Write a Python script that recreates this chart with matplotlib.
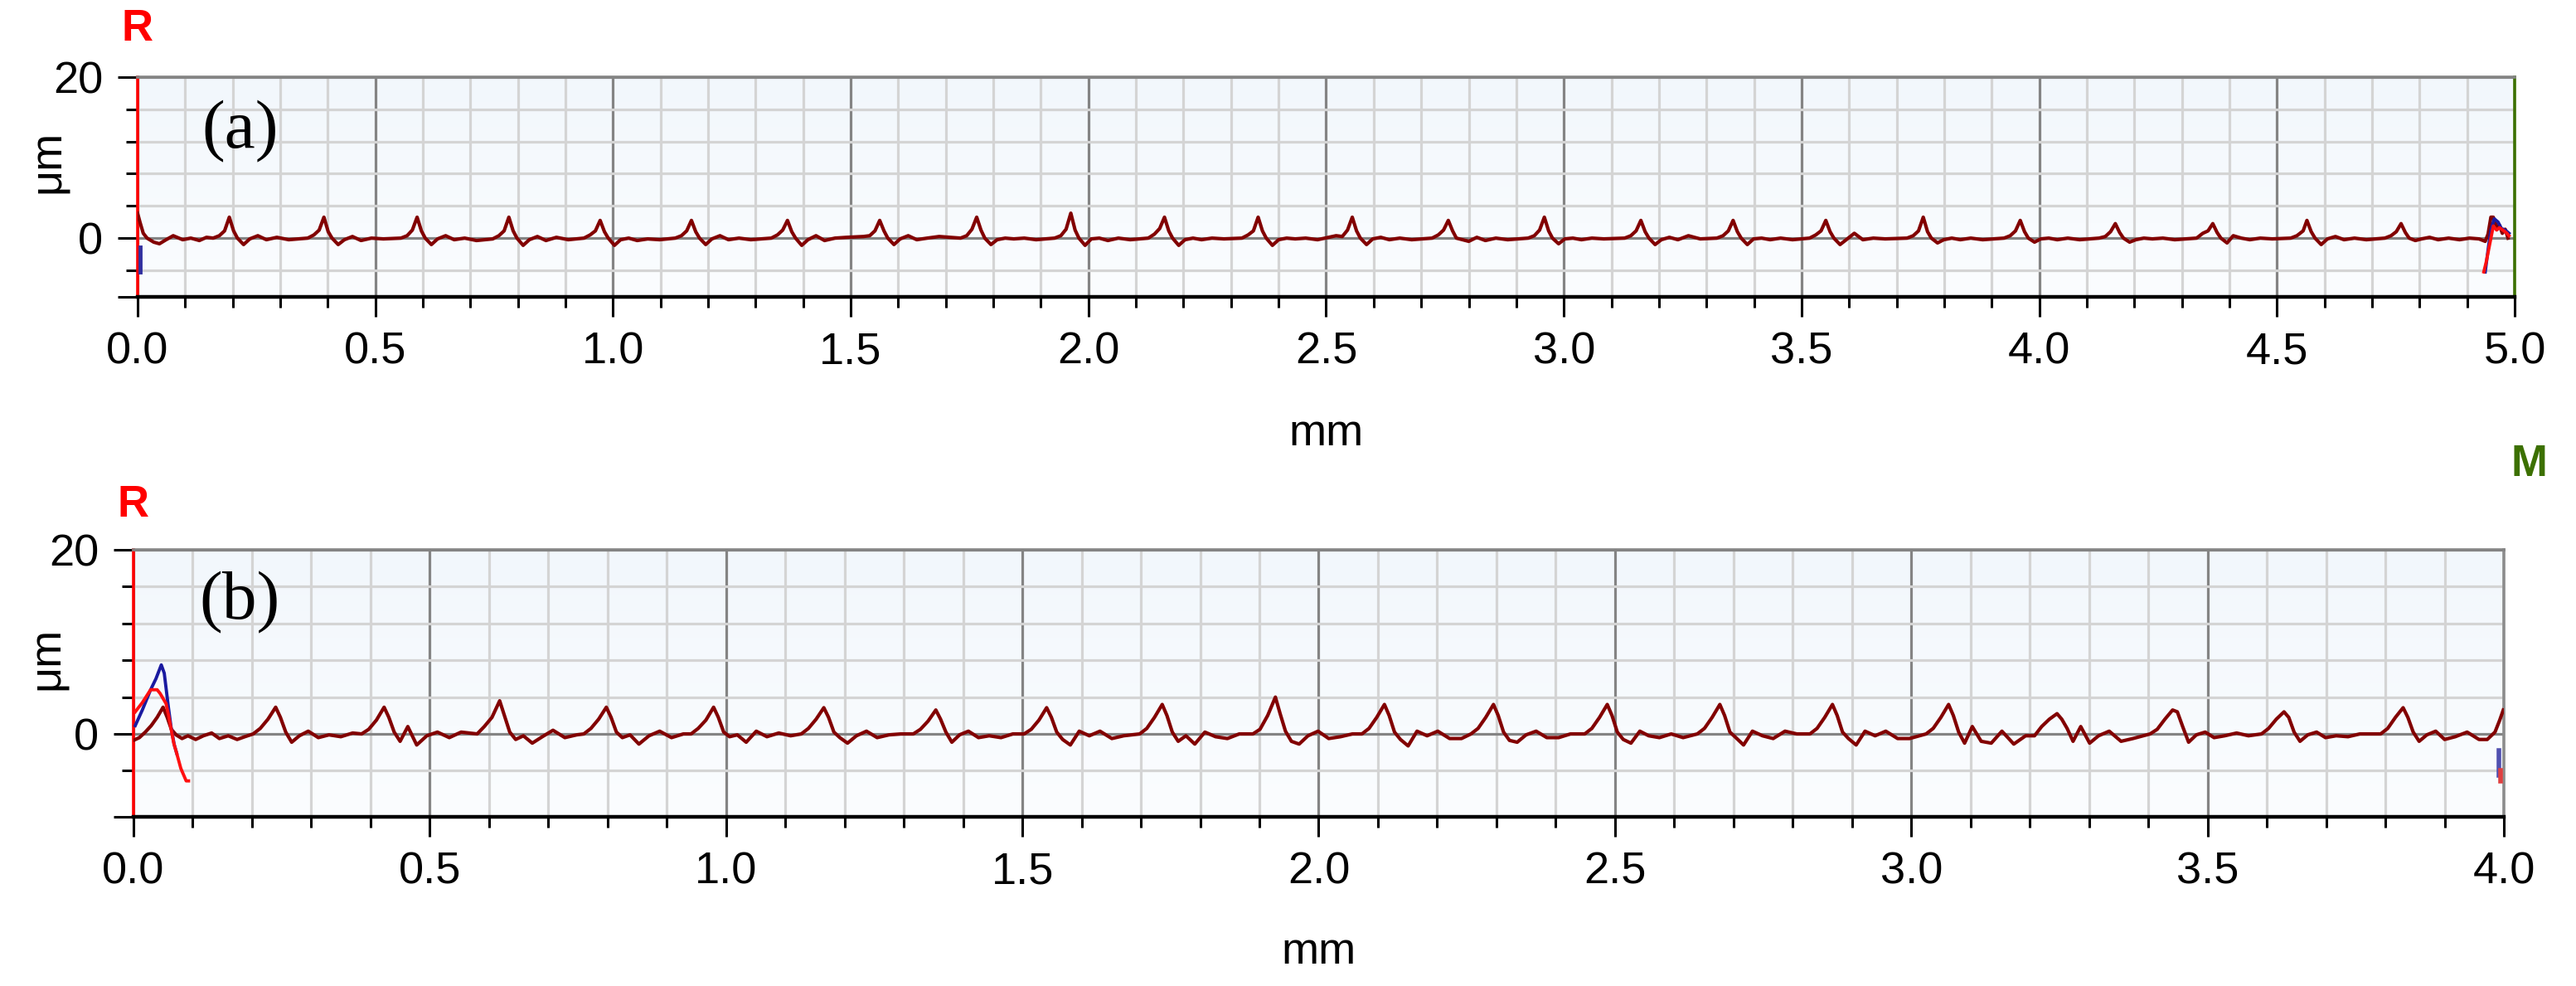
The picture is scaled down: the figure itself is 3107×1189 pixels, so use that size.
import numpy as np
import matplotlib.pyplot as plt
from matplotlib.colors import LinearSegmentedColormap
from matplotlib.ticker import MultipleLocator

plt.rcParams['font.family'] = ['Liberation Sans', 'DejaVu Sans']

# ---------------- panel (a): 5 mm profile ----------------
prof_a_x = [
    0.000, 0.005, 0.012, 0.020, 0.034, 0.046, 0.060, 0.075, 0.095, 0.112, 0.130, 0.145,
    0.159, 0.172, 0.183, 0.193, 0.202, 0.210, 0.223, 0.236, 0.253, 0.271, 0.293, 0.318,
    0.358, 0.371, 0.382, 0.392, 0.401, 0.409, 0.422, 0.435, 0.452, 0.470, 0.492, 0.517,
    0.554, 0.567, 0.578, 0.588, 0.597, 0.605, 0.618, 0.631, 0.648, 0.666, 0.688, 0.713,
    0.747, 0.760, 0.771, 0.781, 0.790, 0.798, 0.811, 0.824, 0.841, 0.859, 0.881, 0.906,
    0.939, 0.952, 0.963, 0.973, 0.982, 0.990, 1.003, 1.016, 1.033, 1.051, 1.073, 1.098,
    1.131, 1.144, 1.155, 1.165, 1.174, 1.182, 1.195, 1.208, 1.225, 1.243, 1.265, 1.290,
    1.333, 1.346, 1.357, 1.367, 1.376, 1.384, 1.397, 1.410, 1.427, 1.445, 1.467, 1.492,
    1.527, 1.540, 1.551, 1.561, 1.570, 1.578, 1.591, 1.604, 1.621, 1.639, 1.661, 1.686,
    1.731, 1.744, 1.755, 1.765, 1.774, 1.782, 1.795, 1.808, 1.825, 1.843, 1.865, 1.890,
    1.929, 1.942, 1.953, 1.963, 1.972, 1.980, 1.993, 2.006, 2.023, 2.041, 2.063, 2.088,
    2.126, 2.139, 2.150, 2.160, 2.169, 2.177, 2.190, 2.203, 2.220, 2.238, 2.260, 2.285,
    2.323, 2.336, 2.347, 2.357, 2.366, 2.374, 2.387, 2.400, 2.417, 2.435, 2.457, 2.482,
    2.521, 2.534, 2.545, 2.555, 2.564, 2.572, 2.585, 2.598, 2.615, 2.633, 2.655, 2.680,
    2.723, 2.736, 2.747, 2.757, 2.766, 2.774, 2.787, 2.800, 2.817, 2.835, 2.857, 2.882,
    2.925, 2.938, 2.949, 2.959, 2.968, 2.976, 2.989, 3.002, 3.019, 3.037, 3.059, 3.084,
    3.128, 3.141, 3.152, 3.162, 3.171, 3.179, 3.192, 3.205, 3.222, 3.240, 3.262, 3.287,
    3.322, 3.335, 3.346, 3.356, 3.365, 3.373, 3.386, 3.399, 3.416, 3.434, 3.456, 3.481,
    3.517, 3.530, 3.541, 3.551, 3.560, 3.568, 3.581, 3.594, 3.611, 3.629, 3.651, 3.676,
    3.722, 3.735, 3.746, 3.756, 3.765, 3.773, 3.786, 3.799, 3.816, 3.834, 3.856, 3.881,
    3.926, 3.939, 3.950, 3.960, 3.969, 3.977, 3.990, 4.003, 4.020, 4.038, 4.060, 4.085,
    4.126, 4.139, 4.150, 4.160, 4.169, 4.177, 4.190, 4.203, 4.220, 4.238, 4.260, 4.285,
    4.331, 4.344, 4.355, 4.365, 4.374, 4.382, 4.395, 4.408, 4.425, 4.443, 4.465, 4.490,
    4.529, 4.542, 4.555, 4.563, 4.572, 4.580, 4.593, 4.606, 4.623, 4.641, 4.663, 4.688,
    4.727, 4.740, 4.751, 4.761, 4.770, 4.778, 4.791, 4.804, 4.821, 4.839, 4.861, 4.884,
    4.905, 4.925, 4.938, 4.944, 4.950, 4.955, 4.962, 4.968, 4.974, 4.980, 4.986,
]
prof_a_y = [
    3.1, 2.0, 0.6, 0.0, -0.5, -0.7, -0.2, 0.3, -0.2, 0.0, -0.3, 0.1,
    0.0, 0.3, 0.9, 2.6, 0.9, 0.0, -0.8, -0.1, 0.3, -0.2, 0.1, -0.2,
    0.0, 0.4, 1.0, 2.6, 0.8, 0.0, -0.8, -0.2, 0.2, -0.3, 0.0, -0.1,
    0.0, 0.3, 1.0, 2.6, 0.9, 0.0, -0.8, -0.1, 0.3, -0.2, 0.0, -0.3,
    -0.1, 0.3, 0.9, 2.6, 0.9, 0.0, -0.9, -0.2, 0.2, -0.3, 0.1, -0.2,
    0.0, 0.4, 0.9, 2.2, 0.8, 0.0, -0.9, -0.2, 0.0, -0.3, -0.1, -0.2,
    0.0, 0.3, 0.9, 2.2, 0.8, 0.0, -0.8, -0.1, 0.3, -0.2, 0.0, -0.2,
    0.0, 0.4, 1.0, 2.2, 0.8, 0.0, -0.9, -0.2, 0.3, -0.3, 0.0, 0.1,
    0.2, 0.3, 0.9, 2.2, 0.9, 0.0, -0.8, -0.1, 0.3, -0.2, 0.0, 0.2,
    0.0, 0.3, 1.1, 2.6, 1.0, 0.0, -0.8, -0.2, 0.0, -0.1, 0.0, -0.2,
    0.0, 0.3, 1.1, 3.1, 1.0, 0.0, -0.9, -0.1, 0.0, -0.3, 0.0, -0.2,
    0.0, 0.5, 1.2, 2.6, 0.9, 0.0, -0.9, -0.2, 0.0, -0.2, 0.0, -0.1,
    0.0, 0.4, 0.9, 2.6, 0.9, 0.0, -0.9, -0.2, 0.0, -0.1, 0.0, -0.2,
    0.3, 0.2, 1.0, 2.6, 0.9, 0.0, -0.8, -0.1, 0.1, -0.2, 0.0, -0.2,
    0.0, 0.4, 1.0, 2.2, 0.9, 0.0, -0.2, -0.4, 0.1, -0.3, 0.0, -0.2,
    0.0, 0.3, 1.0, 2.6, 0.9, 0.0, -0.7, -0.1, 0.0, -0.2, 0.0, -0.1,
    0.0, 0.3, 0.9, 2.2, 0.8, 0.0, -0.8, -0.2, 0.1, -0.2, 0.3, -0.1,
    0.0, 0.3, 0.9, 2.2, 0.8, 0.0, -0.8, -0.1, 0.0, -0.2, 0.0, -0.2,
    0.0, 0.4, 0.9, 2.2, 0.8, 0.0, -0.8, -0.2, 0.6, -0.2, 0.0, -0.1,
    0.0, 0.3, 0.9, 2.6, 0.8, 0.0, -0.6, -0.2, 0.0, -0.2, 0.0, -0.2,
    0.0, 0.3, 0.9, 2.2, 0.8, 0.0, -0.5, -0.1, 0.0, -0.2, 0.0, -0.2,
    0.0, 0.2, 0.8, 1.8, 0.7, 0.0, -0.5, -0.2, 0.0, -0.1, 0.0, -0.2,
    0.0, 0.6, 0.9, 1.8, 0.7, 0.0, -0.6, 0.3, 0.0, -0.2, 0.0, -0.1,
    0.0, 0.3, 0.9, 2.2, 0.8, 0.0, -0.8, -0.1, 0.2, -0.2, 0.0, -0.2,
    0.0, 0.3, 0.8, 1.8, 0.7, 0.0, -0.3, -0.1, 0.1, -0.2, 0.0, -0.2,
    0.0, -0.1, -0.4, 0.5, 2.6, 2.6, 1.4, 1.6, 0.6, 1.1, 0.0,
]
red_a_x = [4.935, 4.940, 4.945, 4.950, 4.955, 4.962, 4.968, 4.975, 4.982, 4.988]
red_a_y = [-4.2, -3.0, -1.5, 0.0, 1.5, 1.0, 1.3, 1.0, 0.7, 0.3]
blue_a_x = [4.938, 4.945, 4.950, 4.957, 4.965, 4.972, 4.980, 4.988]
blue_a_y = [-4.2, -1.0, 1.0, 2.4, 2.0, 1.2, 1.0, 0.6]
blue_a0_x = [0.005, 0.005]
blue_a0_y = [-1.1, -4.2]

# ---------------- panel (b): 4 mm profile ----------------
prof_b_x = [
    0.000, 0.010, 0.020, 0.030, 0.040, 0.050, 0.057, 0.064, 0.072, 0.082, 0.092, 0.105, 0.118, 0.132, 0.145, 0.160, 0.175, 0.188,
    0.202, 0.214, 0.227, 0.240, 0.248, 0.257, 0.267, 0.280, 0.295, 0.312, 0.330, 0.350, 0.370,
    0.385, 0.397, 0.410, 0.423, 0.431, 0.440, 0.450, 0.463, 0.478, 0.495, 0.513, 0.533, 0.553,
    0.580, 0.592, 0.605, 0.618, 0.626, 0.635, 0.645, 0.658, 0.673, 0.690, 0.708, 0.728, 0.748,
    0.760, 0.772, 0.785, 0.798, 0.806, 0.815, 0.825, 0.838, 0.853, 0.870, 0.888, 0.908, 0.928,
    0.941, 0.953, 0.966, 0.979, 0.987, 0.996, 1.006, 1.019, 1.034, 1.051, 1.069, 1.089, 1.109,
    1.127, 1.139, 1.152, 1.165, 1.173, 1.182, 1.192, 1.205, 1.220, 1.237, 1.255, 1.275, 1.295,
    1.316, 1.328, 1.341, 1.354, 1.362, 1.371, 1.381, 1.394, 1.409, 1.426, 1.444, 1.464, 1.484,
    1.503, 1.515, 1.528, 1.541, 1.549, 1.558, 1.568, 1.581, 1.596, 1.613, 1.631, 1.651, 1.671,
    1.698, 1.710, 1.723, 1.736, 1.744, 1.753, 1.763, 1.776, 1.791, 1.808, 1.826, 1.846, 1.866,
    1.889, 1.901, 1.914, 1.927, 1.935, 1.944, 1.954, 1.967, 1.982, 1.999, 2.017, 2.037, 2.057,
    2.073, 2.085, 2.098, 2.111, 2.119, 2.128, 2.138, 2.151, 2.166, 2.183, 2.201, 2.221, 2.241,
    2.257, 2.269, 2.282, 2.295, 2.303, 2.312, 2.322, 2.335, 2.350, 2.367, 2.385, 2.405, 2.425,
    2.449, 2.461, 2.474, 2.487, 2.495, 2.504, 2.514, 2.527, 2.542, 2.557, 2.575, 2.595, 2.615,
    2.639, 2.651, 2.664, 2.677, 2.685, 2.694, 2.704, 2.717, 2.732, 2.749, 2.767, 2.787, 2.807,
    2.829, 2.841, 2.854, 2.867, 2.875, 2.884, 2.894, 2.907, 2.922, 2.939, 2.957, 2.977, 2.997,
    3.025, 3.037, 3.050, 3.063, 3.071, 3.080, 3.090, 3.103, 3.118, 3.135, 3.153, 3.173, 3.193,
    3.208, 3.220, 3.233, 3.246, 3.254, 3.263, 3.273, 3.286, 3.301, 3.316, 3.334, 3.354, 3.374,
    3.403, 3.415, 3.428, 3.441, 3.449, 3.458, 3.468, 3.481, 3.496, 3.511, 3.529, 3.549, 3.569,
    3.591, 3.603, 3.616, 3.629, 3.637, 3.646, 3.656, 3.669, 3.684, 3.699, 3.717, 3.737, 3.757,
    3.792, 3.804, 3.817, 3.830, 3.838, 3.847, 3.857, 3.870, 3.885, 3.900, 3.918, 3.938, 3.958,
    3.972, 3.985, 3.993, 3.999,
]
prof_b_y = [
    -0.7, -0.4, 0.2, 0.9, 1.8, 2.9, 1.8, 0.5, -0.1, -0.5, -0.2, -0.6, -0.2, 0.1, -0.5, -0.2, -0.6, -0.3,
    0.0, 0.6, 1.6, 2.9, 1.8, 0.2, -0.9, -0.2, 0.3, -0.4, -0.1, -0.3, 0.1,
    0.0, 0.5, 1.5, 2.9, 1.8, 0.2, -0.8, 0.8, -1.2, -0.2, 0.2, -0.4, 0.2,
    0.0, 0.8, 1.8, 3.6, 2.0, 0.2, -0.6, -0.2, -1.0, -0.3, 0.4, -0.4, -0.1,
    0.0, 0.6, 1.6, 2.9, 1.8, 0.2, -0.4, -0.1, -1.1, -0.2, 0.3, -0.4, 0.0,
    0.0, 0.6, 1.5, 2.9, 1.8, 0.2, -0.3, -0.1, -0.9, 0.3, -0.3, 0.1, -0.2,
    0.0, 0.6, 1.6, 2.85, 1.8, 0.2, -0.4, -1.0, -0.2, 0.3, -0.4, -0.1, 0.0,
    0.0, 0.5, 1.4, 2.6, 1.6, 0.2, -0.9, -0.1, 0.3, -0.4, -0.2, -0.4, 0.0,
    0.0, 0.5, 1.5, 2.85, 1.8, 0.2, -0.6, -1.2, 0.3, -0.2, 0.3, -0.5, -0.2,
    0.0, 0.6, 1.8, 3.2, 2.0, 0.2, -0.8, -0.2, -1.1, 0.2, -0.3, -0.5, 0.0,
    0.0, 0.5, 2.0, 4.0, 2.2, 0.3, -0.8, -1.1, -0.2, 0.3, -0.5, -0.3, 0.0,
    0.0, 0.6, 1.8, 3.2, 2.0, 0.2, -0.6, -1.3, 0.3, -0.2, 0.3, -0.5, -0.5,
    0.0, 0.6, 1.8, 3.2, 2.0, 0.2, -0.7, -0.9, -0.1, 0.3, -0.4, -0.4, 0.0,
    0.0, 0.6, 1.8, 3.2, 2.0, 0.2, -0.6, -1.0, 0.3, -0.2, -0.4, 0.0, -0.4,
    0.0, 0.6, 1.8, 3.2, 2.0, 0.2, -0.4, -1.2, 0.3, -0.2, -0.5, 0.3, 0.0,
    0.0, 0.6, 1.8, 3.2, 2.0, 0.2, -0.5, -1.2, 0.3, -0.2, 0.3, -0.5, -0.5,
    0.0, 0.6, 1.8, 3.2, 2.0, 0.2, -1.0, 0.8, -0.8, -1.0, 0.3, -1.1, -0.2,
    -0.2, 0.8, 1.6, 2.2, 1.6, 0.6, -0.8, 0.8, -1.0, -0.2, 0.3, -0.8, -0.5,
    0.0, 0.5, 1.6, 2.6, 2.4, 0.8, -0.9, -0.1, 0.2, -0.4, -0.2, 0.1, -0.2,
    0.0, 0.6, 1.6, 2.4, 1.8, 0.2, -0.8, -0.1, 0.2, -0.4, -0.2, -0.3, 0.0,
    0.0, 0.6, 1.8, 2.85, 1.8, 0.2, -0.8, -0.1, 0.3, -0.6, -0.3, 0.2, -0.6,
    -0.6, 0.2, 1.5, 2.6,
]
red_b_x = [0.003, 0.015, 0.029, 0.040, 0.045, 0.055, 0.060, 0.064, 0.068, 0.073, 0.080, 0.089, 0.093]
red_b_y = [2.4, 3.4, 4.8, 4.8, 4.4, 3.3, 1.8, 0.4, -1.0, -2.1, -3.75, -5.1, -5.1]
blue_b_x = [0.003, 0.015, 0.029, 0.038, 0.047, 0.052, 0.059, 0.064, 0.069, 0.073]
blue_b_y = [0.9, 2.6, 4.8, 6.0, 7.5, 6.6, 2.9, 0.5, -1.2, -2.1]
blue_b_end_x = [3.992, 3.992]
blue_b_end_y = [-1.8, -4.5]
red_b_end_x = [3.994, 3.994]
red_b_end_y = [-4.0, -5.1]

DARKRED = '#820000'
fig = plt.figure(figsize=(31.07, 11.89), dpi=100)
ax1 = fig.add_axes([0.0534, 0.6989, 0.9228, 0.2229])
ax2 = fig.add_axes([0.0518, 0.1716, 0.9202, 0.2708])

bg = LinearSegmentedColormap.from_list('bg', ['#fbfdff', '#f2f7fc'])


def style(ax, xmax, ymin, right_color, label_x, label_y, xlabel_y):
    ax.imshow(np.linspace(0, 1, 100).reshape(-1, 1), cmap=bg, aspect='auto',
              extent=(0, 1, 0, 1), transform=ax.transAxes, origin='lower', zorder=0)
    ax.set_xlim(0, xmax)
    ax.set_ylim(ymin, 20)
    ax.xaxis.set_major_locator(MultipleLocator(0.5))
    ax.xaxis.set_minor_locator(MultipleLocator(0.1))
    ax.xaxis.set_major_formatter('{x:.1f}')
    ax.set_yticks([ymin, 0, 20])
    ax.set_yticklabels(['', '0', '20'])
    ax.set_yticks([-4, 4, 8, 12, 16], minor=True)
    ax.grid(which='minor', color='#d4d4d4', lw=2.3, zorder=1)
    ax.grid(which='major', color='#848484', lw=2.3, zorder=1)
    ax.set_axisbelow(True)
    ax.tick_params(which='major', length=17, width=2.2, labelsize=39, pad=13)
    ax.tick_params(which='minor', length=9, width=2.2)
    ax.tick_params(axis='y', which='minor', length=10)
    ax.spines['left'].set_color('#ff0000')
    ax.spines['left'].set_linewidth(2.6)
    ax.spines['bottom'].set_color('black')
    ax.spines['bottom'].set_linewidth(3.2)
    ax.spines['top'].set_color('#848484')
    ax.spines['top'].set_linewidth(2.6)
    ax.spines['right'].set_color(right_color)
    ax.spines['right'].set_linewidth(2.6)
    ax.set_ylabel('μm', fontsize=39)
    ax.yaxis.set_label_coords(label_x, label_y)
    ax.set_xlabel('mm', fontsize=39)
    ax.xaxis.set_label_coords(0.5, xlabel_y)


style(ax1, 5.0, -7.3, '#3c7000', -0.029, 0.615, -0.53)
style(ax2, 4.0, -9.0, '#8c8c8c', -0.0276, 0.593, -0.43)

ax1.plot(prof_a_x, prof_a_y, color=DARKRED, lw=3.0, zorder=3)
ax1.plot(blue_a_x, blue_a_y, color='#1a1aa0', lw=2.8, zorder=4)
ax1.plot(red_a_x, red_a_y, color='#ff1010', lw=2.8, zorder=5)
ax1.plot(blue_a0_x, blue_a0_y, color='#3030a0', lw=3.5, zorder=4)

ax2.plot(prof_b_x, prof_b_y, color=DARKRED, lw=3.0, zorder=3)
ax2.plot(blue_b_x, blue_b_y, color='#1a1aa0', lw=2.8, zorder=4)
ax2.plot(red_b_x, red_b_y, color='#ff1010', lw=2.8, zorder=5)
ax2.plot(blue_b_end_x, blue_b_end_y, color='#5050b0', lw=4, zorder=4)
ax2.plot(red_b_end_x, red_b_end_y, color='#e04040', lw=4, zorder=5)

ax1.text(0.0433, 0.751, '(a)', transform=ax1.transAxes, fontsize=60,
         family='Liberation Serif', ha='center', va='center', zorder=6)
ax2.text(0.0448, 0.801, '(b)', transform=ax2.transAxes, fontsize=60,
         family='Liberation Serif', ha='center', va='center', zorder=6)

fig.text(0.0534, 0.9706, 'R', color='#ff0000', fontsize=38, fontweight='bold',
         ha='center', va='center')
fig.text(0.0518, 0.4878, 'R', color='#ff0000', fontsize=38, fontweight='bold',
         ha='center', va='center')
fig.text(0.9817, 0.529, 'M', color='#3c7000', fontsize=38, fontweight='bold',
         ha='center', va='center')

fig.savefig('out.png', dpi=100)
